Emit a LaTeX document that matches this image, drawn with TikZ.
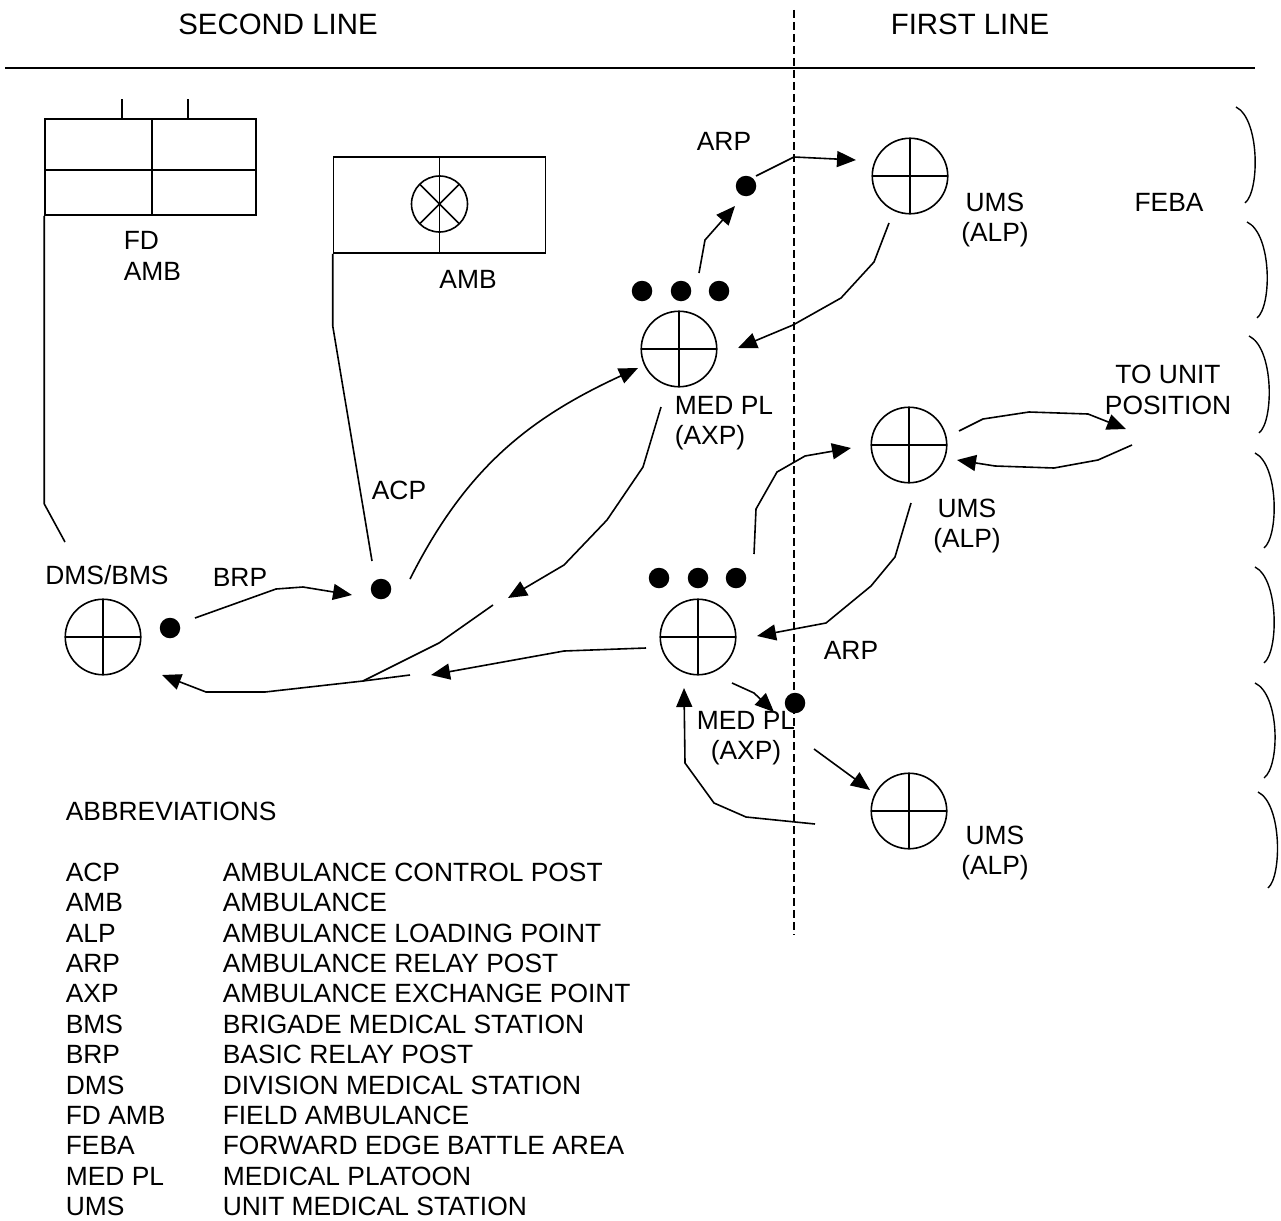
\documentclass[tikz,border=0pt]{standalone}
\usepackage{fontspec}
\setmainfont{Liberation Sans}
\usetikzlibrary{arrows.meta}
\tikzset{
  station/.style={circle, draw, minimum size=75.5pt, inner sep=0pt,
                  path picture={\draw (path picture bounding box.north) -- (path picture bounding box.south)
                                      (path picture bounding box.west) -- (path picture bounding box.east);}},
  relay/.style={circle, fill, minimum size=20.5pt, inner sep=0pt},
  route/.style={-{Triangle[length=19pt, width=16pt]}},
  tag/.style={font=\fontsize{26.4pt}{30.4pt}\selectfont, inner sep=0pt, align=center},
  heading/.style={font=\fontsize{29.4pt}{34pt}\selectfont, inner sep=0pt},
  tier/.style={line width=1.4pt},
}

\begin{document}
\begin{tikzpicture}[x=1pt, y=-1pt, line width=1.6pt]
    \fill[white] (0,0) rectangle (1281,1220);
    \useasboundingbox (0,0) rectangle (1281,1220);
    \node[heading] (second) at (278,24) {SECOND LINE};
    \node[heading] (first) at (970,24) {FIRST LINE};
    \draw (5,68) -- (1255,68);
    \draw[line width=1.3pt, dash pattern=on 8pt off 4pt] (794,10) -- (794,935);

    \node[draw, minimum width=211pt, minimum height=96pt, inner sep=0pt] (fdbox) at (150.5,167) {};
    \draw ([yshift=-3pt]fdbox.west) -- ([yshift=-3pt]fdbox.east);
    \draw ([xshift=1.5pt]fdbox.north) -- ([xshift=1.5pt]fdbox.south);
    \draw ([xshift=-28.5pt]fdbox.north) -- ++(0,-19);
    \draw ([xshift=37.5pt]fdbox.north) -- ++(0,-19);
    \node[tag, align=left, anchor=west] (fdlbl) at (123,256) {FD\\AMB};
    \node[draw, minimum width=212pt, minimum height=96pt, inner sep=0pt] (ambbox) at (439.5,205) {};
    \draw (ambbox.north) -- (ambbox.south);
    \node[draw, circle, minimum size=56pt, inner sep=0pt,
          path picture={\draw (path picture bounding box.north west) -- (path picture bounding box.south east)
                              (path picture bounding box.north east) -- (path picture bounding box.south west);}] (ambmark) at (439.5,204) {};
    \node[tag] (amblbl) at (468,279) {AMB};

    \node[station] (dms) at (103,637) {};
    \node[station] (meda) at (679,349) {};
    \node[station] (medb) at (698,637) {};
    \node[station] (umsa) at (910,176) {};
    \node[station] (umsb) at (909,445) {};
    \node[station] (umsc) at (909,811) {};
    \node[relay] (brp) at (170,628) {};
    \node[relay] (acp) at (381,589) {};
    \node[relay] (arpa) at (746,186) {};
    \node[relay] (arpb) at (795,703) {};
    \node[relay] (meda1) at (642,291) {}; \node[relay] (meda2) at (681,291) {}; \node[relay] (meda3) at (719,291) {};
    \node[relay] (medb1) at (659,578) {}; \node[relay] (medb2) at (698,578) {}; \node[relay] (medb3) at (736,578) {};

    \node[tag] (dmslbl) at (107,575) {DMS/BMS};
    \node[tag] (brplbl) at (240,577) {BRP};
    \node[tag] (acplbl) at (399,490) {ACP};
    \node[tag] (arpalbl) at (724,141) {ARP};
    \node[tag] (arpblbl) at (851,650) {ARP};
    \node[tag, align=left, anchor=west] (medalbl) at (674,423) {MED PL\\(AXP)};
    \node[tag] (medblbl) at (746,738) {MED PL\\(AXP)};
    \node[tag] (umsalbl) at (995,220) {UMS\\(ALP)};
    \node[tag] (umsblbl) at (967,526) {UMS\\(ALP)};
    \node[tag] (umsclbl) at (995,853) {UMS\\(ALP)};
    \node[tag] (unitpos) at (1168,390) {TO UNIT\\POSITION};
    \node[tag] (feba) at (1169,202) {FEBA};

    \draw (fdbox.south west) -- ++(0,288) -- ([shift={(-38,-95)}]dms.center);
    \draw (ambbox.south west) -- ++(0,72) -- ([shift={(-9,-28)}]acp.center);

    \coordinate (waya) at (508,598);
    \coordinate (wayb) at (493,605);
    \coordinate (merge) at (363,681);
    \coordinate (wayc) at (410,675);
    \coordinate (wayd) at (431,675);

    \draw[route] ([shift={(25,-10)}]brp.center) -- (276,589) -- (303,587) -- ([shift={(-29,6)}]acp.center);
    \draw[route] ([shift={(29,-10)}]acp.center) .. controls (465,470) and (527,419) .. ([shift={(-41,19)}]meda.center);
    \draw[route] ([shift={(-18,58)}]meda.center) -- (643,467) -- (607,520) -- (564,565) -- (waya);
    \draw (wayb) -- (439,643) -- (merge);
    \draw[route] (wayc) -- (merge) -- (265,692) -- (206,692) -- ([shift={(59,38)}]dms.center);
    \draw[route] ([shift={(-52,11)}]medb.center) -- (564,651) -- (wayd);
    \draw[route] ([shift={(20,-76)}]meda.center) -- (705,240) -- ([shift={(-11,20)}]arpa.center);
    \draw[route] ([shift={(10,-10)}]arpa.center) -- (794,157) -- ([shift={(-54,-16)}]umsa.center);
    \draw[route] ([shift={(-21,47)}]umsa.center) -- (874,262) -- (841,298) -- (793,325) -- ([shift={(59,-1)}]meda.center);
    \draw[route] ([shift={(56,-83)}]medb.center) -- (756,509) -- (777,472) -- (805,456) -- ([shift={(-58,3)}]umsb.center);
    \draw[route] ([shift={(50,-14)}]umsb.center) -- (983,419) -- (1029,412) -- (1088,414) -- ([shift={(-42,39)}]unitpos.center);
    \draw[route] ([shift={(-36,55)}]unitpos.center) -- (1098,460) -- (1054,468) -- (995,466) -- ([shift={(48,15)}]umsb.center);
    \draw[route] ([shift={(2,58)}]umsb.center) -- (895,557) -- (871,586) -- (826,623) -- ([shift={(59,-1)}]medb.center);
    \draw[route] ([shift={(34,46)}]medb.center) -- (754,693) -- ([shift={(-21,9)}]arpb.center);
    \draw[route] ([shift={(19,46)}]arpb.center) -- ([shift={(-39,-21)}]umsc.center);
    \draw[route] ([shift={(-94,13)}]umsc.center) -- (746,817) -- (714,803) -- (685,763) -- ([shift={(-14,51)}]medb.center);

    \draw[tier] (1236,107) .. controls (1259.8,119) and (1259.8,191) .. (1245,203);
    \draw[tier] (1247,222) .. controls (1272,234) and (1272,306) .. (1257,318);
    \draw[tier] (1249,336) .. controls (1274,348) and (1274,421) .. (1259,433);
    \draw[tier] (1255,453) .. controls (1278.8,465) and (1278.8,536) .. (1264,548);
    \draw[tier] (1255,567) .. controls (1278.8,579) and (1278.8,651) .. (1264,663);
    \draw[tier] (1255,683) .. controls (1280,695) and (1280,766) .. (1264,778);
    \draw[tier] (1258,792) .. controls (1282,804) and (1282,876) .. (1268,888);

    \node[anchor=base west, inner sep=0pt, font=\fontsize{26.4pt}{30.4pt}\selectfont] (abbr) at (65,820.5) {%
      \begin{tabular}[t]{@{}p{157pt}@{}l@{}}
        \multicolumn{2}{@{}l@{}}{ABBREVIATIONS}\\
        \\
        ACP & AMBULANCE CONTROL POST\\
        AMB & AMBULANCE\\
        ALP & AMBULANCE LOADING POINT\\
        ARP & AMBULANCE RELAY POST\\
        AXP & AMBULANCE EXCHANGE POINT\\
        BMS & BRIGADE MEDICAL STATION\\
        BRP & BASIC RELAY POST\\
        DMS & DIVISION MEDICAL STATION\\
        FD AMB & FIELD AMBULANCE\\
        FEBA & FORWARD EDGE BATTLE AREA\\
        MED PL & MEDICAL PLATOON\\
        UMS & UNIT MEDICAL STATION
      \end{tabular}};
\end{tikzpicture}
\end{document}
